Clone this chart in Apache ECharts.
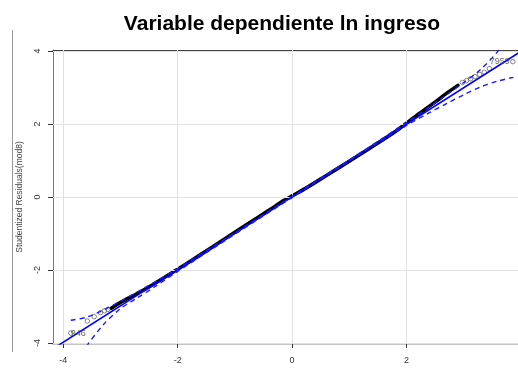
<!DOCTYPE html>
<html>
<head>
<meta charset="utf-8">
<script src="https://cdn.jsdelivr.net/npm/echarts@6/dist/echarts.min.js"></script>
<style>
html,body{margin:0;padding:0;background:#fff;}
#chart{width:518px;height:370px;}
</style>
</head>
<body>
<div id="chart"></div>
<script>
// ---- data ----
var xTicks = [-4, -2, 0, 2];
var yTicks = [-4, -2, 0, 2, 4];
// dense central band of the QQ points (t quantiles vs studentized residuals)
var bandX = [-3.16, -3.0, -2.7, -2.4, -2.0, -1.6, -1.2, -0.8, -0.4, -0.15, 0, 0.25, 0.6, 1.0, 1.4, 1.8, 2.2, 2.5, 2.7, 2.9];
var bandY = [-3.05, -2.89, -2.64, -2.37, -1.98, -1.58, -1.17, -0.76, -0.36, -0.10, 0.03, 0.25, 0.59, 0.98, 1.38, 1.79, 2.26, 2.60, 2.84, 3.06];
// individual tail points
var tailX = [-3.87, -3.58, -3.46, -3.35, -3.28, -3.22, 2.98, 3.05, 3.12, 3.20, 3.28, 3.36, 3.45, 3.86];
var tailY = [-3.73, -3.40, -3.28, -3.17, -3.12, -3.08, 3.14, 3.19, 3.24, 3.30, 3.36, 3.42, 3.52, 3.71];
// labelled observations
var idLabels = ['946', '7959'];
var idX = [-3.87, 3.86];
var idY = [-3.73, 3.71];
// reference line
var refX = [-4.2, 4.0];
var refY = [-4.18, 3.99];
// confidence envelope
var envX = [-3.87, -3.6, -3.3, -3.0, -2.7, -2.4, -2.0, -1.0, 0, 1.0, 2.0, 2.4, 2.7, 3.0, 3.3, 3.6, 3.87];
var envUpper = [-3.38, -3.30, -3.10, -2.86, -2.60, -2.33, -1.96, -0.98, 0.015, 1.015, 2.04, 2.47, 2.80, 3.14, 3.50, 4.0, 4.6];
var envLower = [-4.7, -4.10, -3.50, -3.06, -2.76, -2.46, -2.04, -1.02, -0.015, 0.985, 1.96, 2.31, 2.56, 2.80, 3.02, 3.18, 3.28];

function zip(a, b) { return a.map(function (v, i) { return [v, b[i]]; }); }

var chart = echarts.init(document.getElementById('chart'), null, {renderer: 'canvas'});
var font = 'Liberation Sans, Arial, sans-serif';

var option = {
  backgroundColor: '#fff',
  animation: false,
  title: {
    text: 'Variable dependiente ln ingreso',
    left: 277, top: 9, textAlign: 'center',
    textStyle: {fontFamily: font, fontSize: 21, fontWeight: 'bold', color: '#000'}
  },
  graphic: [
    {type: 'line', shape: {x1: 12.5, y1: 30, x2: 12.5, y2: 352}, style: {stroke: '#999', lineWidth: 1}, silent: true}
  ],
  grid: {left: 53, top: 50, right: 0, bottom: 26, containLabel: false},
  xAxis: [{
    type: 'value', min: -4.18, max: 3.95,
    axisLine: {show: true, onZero: false, lineStyle: {color: '#c4c4c4', width: 2}},
    axisTick: {show: true, customValues: xTicks, length: 4, lineStyle: {color: '#333'}},
    axisLabel: {customValues: xTicks, color: '#333', fontSize: 9, fontFamily: font, margin: 12},
    splitLine: {show: false}
  }, {
    type: 'value', position: 'top', min: -4.18, max: 3.95,
    axisLine: {show: true, onZero: false, lineStyle: {color: '#444', width: 1.2}},
    axisTick: {show: false}, axisLabel: {show: false}, splitLine: {show: false}
  }],
  yAxis: [{
    type: 'value', min: -4.03, max: 4.03,
    name: 'Studentized Residuals(mod8)', nameLocation: 'middle', nameGap: 29,
    nameTextStyle: {fontFamily: font, fontSize: 8.5, color: '#444'},
    axisLine: {show: true, onZero: false, lineStyle: {color: '#777', width: 1}},
    axisTick: {show: true, customValues: yTicks, length: 5, lineStyle: {color: '#333'}},
    axisLabel: {customValues: yTicks, rotate: 90, color: '#333', fontSize: 9, fontFamily: font, margin: 11},
    splitLine: {show: false}
  }],
  series: [
    {
      type: 'line', data: [], silent: true,
      markLine: {
        silent: true, symbol: 'none', label: {show: false},
        lineStyle: {color: '#e2e2e2', width: 1, type: 'solid'},
        data: xTicks.map(function (v) { return {xAxis: v}; }).concat(yTicks.map(function (v) { return {yAxis: v}; }))
      }
    },
    {
      type: 'line', data: zip(bandX, bandY), showSymbol: false, smooth: 0.3,
      lineStyle: {color: '#000', width: 3.6, cap: 'round'}, silent: true, z: 3
    },
    {
      type: 'scatter', data: zip(tailX, tailY), symbol: 'circle', symbolSize: 4.5,
      itemStyle: {color: 'rgba(255,255,255,0)', borderColor: '#444', borderWidth: 0.8}, silent: true, z: 4
    },
    {
      type: 'scatter', data: [[idX[0], idY[0], idLabels[0]]], symbolSize: 0,
      label: {show: true, formatter: function (p) { return p.data[2]; }, position: 'right', distance: 0,
        color: '#444', fontSize: 9, fontFamily: font}, silent: true, z: 6
    },
    {
      type: 'scatter', data: [[idX[1], idY[1], idLabels[1]]], symbolSize: 0,
      label: {show: true, formatter: function (p) { return p.data[2]; }, position: 'left', distance: 3,
        color: '#444', fontSize: 9, fontFamily: font}, silent: true, z: 6
    },
    {
      type: 'line', data: zip(refX, refY), showSymbol: false,
      lineStyle: {color: '#0000ff', width: 1.6}, silent: true, z: 5
    },
    {
      type: 'line', data: zip(envX, envUpper), showSymbol: false, smooth: 0.3,
      lineStyle: {color: '#1a1aff', width: 1.4, type: [5, 4]}, silent: true, z: 5
    },
    {
      type: 'line', data: zip(envX, envLower), showSymbol: false, smooth: 0.3,
      lineStyle: {color: '#1a1aff', width: 1.4, type: [5, 4]}, silent: true, z: 5
    }
  ]
};
chart.setOption(option);
</script>
</body>
</html>
